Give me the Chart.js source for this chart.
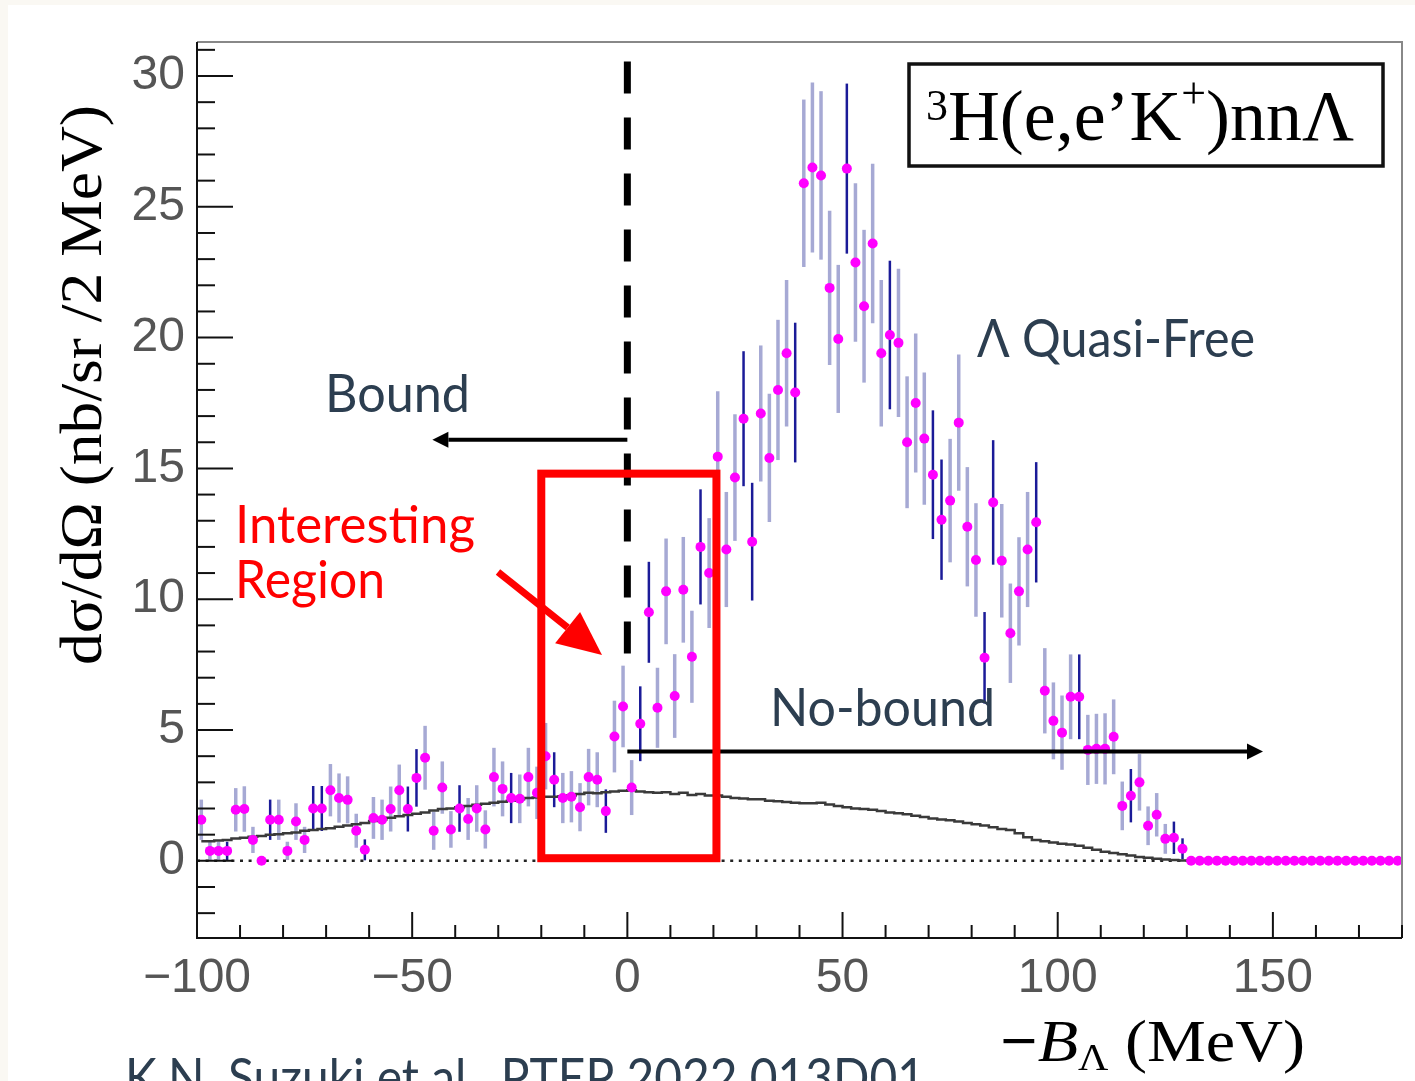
<!DOCTYPE html>
<html>
<head>
<meta charset="utf-8">
<script src="https://cdn.jsdelivr.net/npm/chart.js@4.4.1/dist/chart.umd.min.js"></script>
<style>
  html, body { margin: 0; padding: 0; background: #faf8f3; }
  #wrap { width: 1415px; height: 1081px; }
</style>
</head>
<body>
<div id="wrap"><canvas id="grafico" width="1415" height="1081"></canvas></div>
<script>
// espectro en bins de 2 MeV, desde -100 MeV
const binStart = -100;
const binWidth = 2;

const yields = [
    1.57, 0.38, 0.38, 0.38, 1.95, 1.98, 0.80, 0.00, 1.57, 1.57,
    0.38, 1.50, 0.80, 2.00, 2.00, 2.70, 2.40, 2.33, 1.15, 0.42,
    1.64, 1.57, 1.98, 2.70, 1.98, 3.17, 3.94, 1.15, 2.80, 1.20,
    2.00, 1.60, 2.00, 1.20, 3.20, 2.75, 2.40, 2.37, 3.20, 2.60,
    4.00, 3.10, 2.40, 2.45, 2.05, 3.20, 3.10, 1.90, 4.75, 5.90,
    2.80, 5.24, 9.50, 5.85, 10.30, 6.30, 10.36, 7.80, 12.00, 11.00,
    15.45, 11.90, 14.65, 16.90, 12.20, 17.10, 15.40, 18.00, 19.40, 17.90,
    25.90, 26.50, 26.20, 21.90, 19.95, 26.46, 22.87, 21.20, 23.60, 19.40,
    20.10, 19.80, 16.00, 17.50, 16.14, 14.76, 13.04, 13.77, 16.75, 12.77,
    11.50, 7.76, 13.70, 11.47, 8.70, 10.30, 11.90, 12.94, 6.50, 5.35,
    4.90, 6.27, 6.27, 4.24, 4.28, 4.28, 4.74, 2.10, 2.49, 3.00,
    1.34, 1.76, 0.84, 0.88, 0.46, 0, 0, 0, 0, 0,
    0, 0, 0, 0, 0, 0, 0, 0, 0, 0,
    0, 0, 0, 0, 0, 0, 0, 0, 0, 0
];

const errors = [
    0.77, 0.35, 0.35, 0.35, 0.83, 0.87, 0.50, 0.00, 0.77, 0.77,
    0.35, 0.70, 0.50, 0.86, 0.86, 1.00, 0.94, 0.90, 0.65, 0.40,
    0.80, 0.77, 0.86, 0.98, 0.86, 1.10, 1.22, 0.73, 1.00, 0.70,
    0.89, 0.80, 0.89, 0.73, 1.12, 1.05, 0.96, 0.93, 1.12, 1.00,
    1.27, 1.05, 0.96, 0.98, 0.92, 1.08, 1.05, 0.83, 1.37, 1.56,
    1.05, 1.43, 1.93, 1.53, 2.02, 1.60, 2.02, 1.76, 2.20, 2.10,
    2.50, 2.20, 2.42, 2.58, 2.25, 2.60, 2.45, 2.68, 2.80, 2.67,
    3.20, 3.25, 3.22, 2.95, 2.83, 3.25, 3.03, 2.92, 3.05, 2.80,
    2.84, 2.83, 2.52, 2.66, 2.53, 2.46, 2.30, 2.36, 2.60, 2.28,
    2.17, 1.75, 2.38, 2.17, 1.90, 2.07, 2.20, 2.30, 1.63, 1.47,
    1.42, 1.62, 1.62, 1.34, 1.34, 1.36, 1.43, 0.93, 1.02, 1.08,
    0.74, 0.83, 0.57, 0.62, 0.40, 0, 0, 0, 0, 0,
    0, 0, 0, 0, 0, 0, 0, 0, 0, 0,
    0, 0, 0, 0, 0, 0, 0, 0, 0, 0
];

// fondo (quasi-free simulado)
const background = [
    0.75, 0.75, 0.78, 0.80, 0.85, 0.88, 0.92, 0.95, 1.00, 1.02,
    1.05, 1.08, 1.15, 1.18, 1.22, 1.25, 1.30, 1.35, 1.40, 1.45,
    1.52, 1.58, 1.65, 1.70, 1.75, 1.80, 1.85, 1.92, 1.98, 2.00,
    2.05, 2.10, 2.14, 2.18, 2.22, 2.26, 2.30, 2.35, 2.40, 2.42,
    2.45, 2.45, 2.47, 2.50, 2.55, 2.60, 2.58, 2.62, 2.65, 2.68,
    2.70, 2.65, 2.62, 2.60, 2.62, 2.55, 2.60, 2.52, 2.55, 2.50,
    2.50, 2.45, 2.40, 2.38, 2.35, 2.35, 2.30, 2.28, 2.25, 2.22,
    2.20, 2.20, 2.22, 2.15, 2.10, 2.05, 2.00, 1.98, 1.95, 1.90,
    1.85, 1.82, 1.78, 1.72, 1.68, 1.62, 1.58, 1.55, 1.50, 1.45,
    1.40, 1.35, 1.28, 1.22, 1.18, 1.05, 0.90, 0.80, 0.75, 0.70,
    0.65, 0.62, 0.58, 0.50, 0.42, 0.35, 0.30, 0.25, 0.20, 0.15,
    0.12, 0.08, 0.05, 0.03, 0.01, 0, 0, 0, 0, 0,
    0, 0, 0, 0, 0, 0, 0, 0, 0, 0,
    0, 0, 0, 0, 0, 0, 0, 0, 0, 0
];

const xTickLabels = [-100, -50, 0, 50, 100, 150];
const yTickLabels = [0, 5, 10, 15, 20, 25, 30];

// barras que salen más oscuras en la figura
const darkBins = [-93, -83, -73, -71, -61, -51, -49, -39, -27, -17, -5, 3, 5, 17,
    27, 29, 39, 51, 61, 71, 73, 83, 85, 95, 105, 117, 127, 129];

const points = yields.map((v, i) => ({ x: binStart + binWidth * (i + 0.5), y: v }));
const bgPoints = background.map((v, i) => ({ x: binStart + binWidth * (i + 0.5), y: v }));

const SANS = '"Lato", "Noto Sans", sans-serif';
const SERIF = '"Liberation Serif", "DejaVu Serif", serif';
const SLATE = "#2c3e50";

function fitText(ctx, text, x, y, width, font, color) {
    ctx.save();
    ctx.font = font;
    ctx.fillStyle = color;
    ctx.textBaseline = "alphabetic";
    const w = ctx.measureText(text).width;
    ctx.translate(x, y);
    ctx.scale(width / w, 1);
    ctx.fillText(text, 0, 0);
    ctx.restore();
}

// trozos de texto con superíndices / subíndices
function richText(ctx, parts, x, y, width, color) {
    ctx.save();
    ctx.fillStyle = color;
    ctx.textBaseline = "alphabetic";
    let total = 0;
    parts.forEach(p => { ctx.font = p.font; p.w = ctx.measureText(p.t).width; total += p.w; });
    ctx.translate(x, y);
    ctx.scale(width / total, 1);
    let cx = 0;
    parts.forEach(p => {
        ctx.font = p.font;
        ctx.fillText(p.t, cx, -(p.dy || 0));
        cx += p.w;
    });
    ctx.restore();
}

function arrow(ctx, x1, y1, x2, y2, width, head, half, color) {
    const ang = Math.atan2(y2 - y1, x2 - x1);
    const bx = x2 - head * Math.cos(ang);
    const by = y2 - head * Math.sin(ang);
    ctx.save();
    ctx.strokeStyle = color;
    ctx.fillStyle = color;
    ctx.lineWidth = width;
    ctx.beginPath();
    ctx.moveTo(x1, y1);
    ctx.lineTo(bx, by);
    ctx.stroke();
    ctx.beginPath();
    ctx.moveTo(x2, y2);
    ctx.lineTo(bx + half * Math.sin(ang), by - half * Math.cos(ang));
    ctx.lineTo(bx - half * Math.sin(ang), by + half * Math.cos(ang));
    ctx.closePath();
    ctx.fill();
    ctx.restore();
}

const paper = {
    id: "paper",
    beforeDraw(chart) {
        const ctx = chart.ctx;
        ctx.save();
        ctx.fillStyle = "#faf8f3";
        ctx.fillRect(0, 0, chart.width, chart.height);
        ctx.fillStyle = "#ffffff";
        ctx.fillRect(8, 5, chart.width - 8, chart.height - 5);
        ctx.restore();
    }
};

const errorBars = {
    id: "errorBars",
    beforeDatasetsDraw(chart) {
        const { ctx, scales: { x, y } } = chart;
        ctx.save();
        ctx.lineCap = "butt";
        points.forEach((p, i) => {
            if (!errors[i]) return;
            const px = x.getPixelForValue(p.x);
            const dark = darkBins.includes(p.x);
            ctx.strokeStyle = dark ? "#1b1b98" : "rgba(150,154,205,0.85)";
            ctx.lineWidth = dark ? 2.5 : 3.5;
            ctx.beginPath();
            ctx.moveTo(px, y.getPixelForValue(p.y - errors[i]));
            ctx.lineTo(px, y.getPixelForValue(p.y + errors[i]));
            ctx.stroke();
        });
        // línea de cero punteada
        const y0 = y.getPixelForValue(0);
        ctx.strokeStyle = "#222";
        ctx.lineWidth = 2.5;
        ctx.setLineDash([3, 5.6]);
        ctx.beginPath();
        ctx.moveTo(chart.chartArea.left, y0);
        ctx.lineTo(chart.chartArea.right, y0);
        ctx.stroke();
        ctx.restore();
    }
};

const frame = {
    id: "frame",
    afterDatasetsDraw(chart) {
        const { ctx, chartArea: a, scales: { x, y } } = chart;
        ctx.save();
        // marco
        ctx.strokeStyle = "#888";
        ctx.lineWidth = 2;
        ctx.beginPath();
        ctx.moveTo(a.left, a.top);
        ctx.lineTo(a.right, a.top);
        ctx.lineTo(a.right, a.bottom);
        ctx.stroke();
        ctx.strokeStyle = "#111";
        ctx.beginPath();
        ctx.moveTo(a.left, a.top);
        ctx.lineTo(a.left, a.bottom);
        ctx.lineTo(a.right, a.bottom);
        ctx.stroke();
        // ticks hacia dentro
        ctx.lineWidth = 2;
        x.ticks.forEach(t => {
            const px = x.getPixelForValue(t.value);
            const len = xTickLabels.includes(t.value) ? 26 : 13;
            ctx.beginPath();
            ctx.moveTo(px, a.bottom);
            ctx.lineTo(px, a.bottom - len);
            ctx.stroke();
        });
        y.ticks.forEach(t => {
            const py = y.getPixelForValue(t.value);
            const len = yTickLabels.includes(t.value) ? 36 : 18;
            ctx.beginPath();
            ctx.moveTo(a.left, py);
            ctx.lineTo(a.left + len, py);
            ctx.stroke();
        });
        ctx.restore();
    }
};

const notes = {
    id: "notes",
    afterDraw(chart) {
        const { ctx, scales: { x, y } } = chart;
        const x0 = x.getPixelForValue(0);

        // límite de ligadura
        ctx.save();
        ctx.strokeStyle = "#000";
        ctx.lineWidth = 7;
        ctx.setLineDash([32, 24]);
        ctx.beginPath();
        ctx.moveTo(x0, y.getPixelForValue(30.55));
        ctx.lineTo(x0, y.getPixelForValue(7.85));
        ctx.stroke();
        ctx.restore();

        // flechas Bound / No-bound
        arrow(ctx, x0, y.getPixelForValue(16.1), x.getPixelForValue(-45.3), y.getPixelForValue(16.1), 4, 16, 8, "#000");
        arrow(ctx, x0, y.getPixelForValue(4.18), x.getPixelForValue(147.7), y.getPixelForValue(4.18), 4, 16, 8, "#000");

        // región de interés
        ctx.save();
        ctx.strokeStyle = "#ff0000";
        ctx.lineWidth = 8;
        const rx1 = x.getPixelForValue(-20), rx2 = x.getPixelForValue(20.7);
        const ry1 = y.getPixelForValue(14.8), ry2 = y.getPixelForValue(0.1);
        ctx.strokeRect(rx1, ry1, rx2 - rx1, ry2 - ry1);
        ctx.restore();
        arrow(ctx, 498, 572, 602, 655, 7, 44, 20, "#ff0000");

        fitText(ctx, "Bound", 325, 412, 145, "52px " + SANS, SLATE);
        fitText(ctx, "Λ Quasi-Free", 977, 357, 278, "52px " + SANS, SLATE);
        fitText(ctx, "No-bound", 770, 726, 225, "52px " + SANS, SLATE);
        fitText(ctx, "Interesting", 235, 543, 240, "52px " + SANS, "#ff0000");
        fitText(ctx, "Region", 235, 598, 150, "52px " + SANS, "#ff0000");
        fitText(ctx, "K.N. Suzuki et al., PTEP 2022 013D01", 125, 1096, 800, "52px " + SANS, SLATE);

        // caja de la reacción
        ctx.save();
        ctx.strokeStyle = "#111";
        ctx.lineWidth = 3.5;
        ctx.strokeRect(909, 64, 474, 102);
        ctx.restore();
        richText(ctx, [
            { t: "3", font: "44px " + SERIF, dy: 20 },
            { t: "H(e,e’K", font: "72px " + SERIF },
            { t: "+", font: "44px " + SERIF, dy: 32 },
            { t: ")nnΛ", font: "72px " + SERIF }
        ], 926, 140, 428, "#000");

        // título eje x
        richText(ctx, [
            { t: "−", font: "bold 60px " + SERIF },
            { t: "B", font: "italic 60px " + SERIF },
            { t: "Λ", font: "38px " + SERIF, dy: -9 },
            { t: " (MeV)", font: "60px " + SERIF }
        ], 1000, 1061, 305, "#000");

        // título eje y
        ctx.save();
        ctx.translate(101, 665);
        ctx.rotate(-Math.PI / 2);
        ctx.font = "60px " + SERIF;
        ctx.fillStyle = "#000";
        ctx.textBaseline = "alphabetic";
        const label = "dσ/dΩ (nb/sr /2 MeV)";
        const w = ctx.measureText(label).width;
        ctx.scale(560 / w, 1);
        ctx.fillText(label, 0, 0);
        ctx.restore();
    }
};

const fmt = v => (v < 0 ? "−" + Math.abs(v) : String(v));

const ctx = document.getElementById("grafico");

const chart = new Chart(ctx, {
    type: "scatter",
    data: {
        datasets: [{
            label: "datos",
            data: points,
            order: 0,
            showLine: false,
            pointRadius: 5,
            pointHoverRadius: 5,
            pointBackgroundColor: "#ff00ff",
            pointBorderWidth: 0
        }, {
            label: "fondo",
            data: bgPoints,
            order: 1,
            showLine: true,
            stepped: "middle",
            borderColor: "#3a3a3a",
            borderWidth: 2.5,
            pointRadius: 0
        }]
    },
    options: {
        responsive: false,
        animation: false,
        devicePixelRatio: 1,
        layout: { padding: { left: 0, right: 13, top: 42, bottom: 0 } },
        plugins: {
            legend: { display: false },
            tooltip: { enabled: false }
        },
        scales: {
            x: {
                type: "linear",
                min: -100,
                max: 180,
                afterBuildTicks: s => {
                    const t = [];
                    for (let v = -100; v <= 180; v += 10) t.push({ value: v });
                    s.ticks = t;
                },
                afterFit: s => { s.height = 143; },
                grid: { display: false, drawTicks: false },
                border: { display: false },
                ticks: {
                    autoSkip: false,
                    maxRotation: 0,
                    padding: 12,
                    color: "#555",
                    font: { family: "Liberation Sans", size: 48 },
                    callback: v => (xTickLabels.includes(v) ? fmt(v) : "")
                }
            },
            y: {
                min: -2.95,
                max: 31.3,
                afterBuildTicks: s => {
                    const t = [];
                    for (let v = -2; v <= 31; v++) t.push({ value: v });
                    s.ticks = t;
                },
                afterFit: s => { s.width = 197; },
                grid: { display: false, drawTicks: false },
                border: { display: false },
                ticks: {
                    autoSkip: false,
                    padding: 12,
                    color: "#555",
                    font: { family: "Liberation Sans", size: 48 },
                    callback: v => (yTickLabels.includes(v) ? String(v) : "")
                }
            }
        }
    },
    plugins: [paper, errorBars, frame, notes]
});
</script>
</body>
</html>
